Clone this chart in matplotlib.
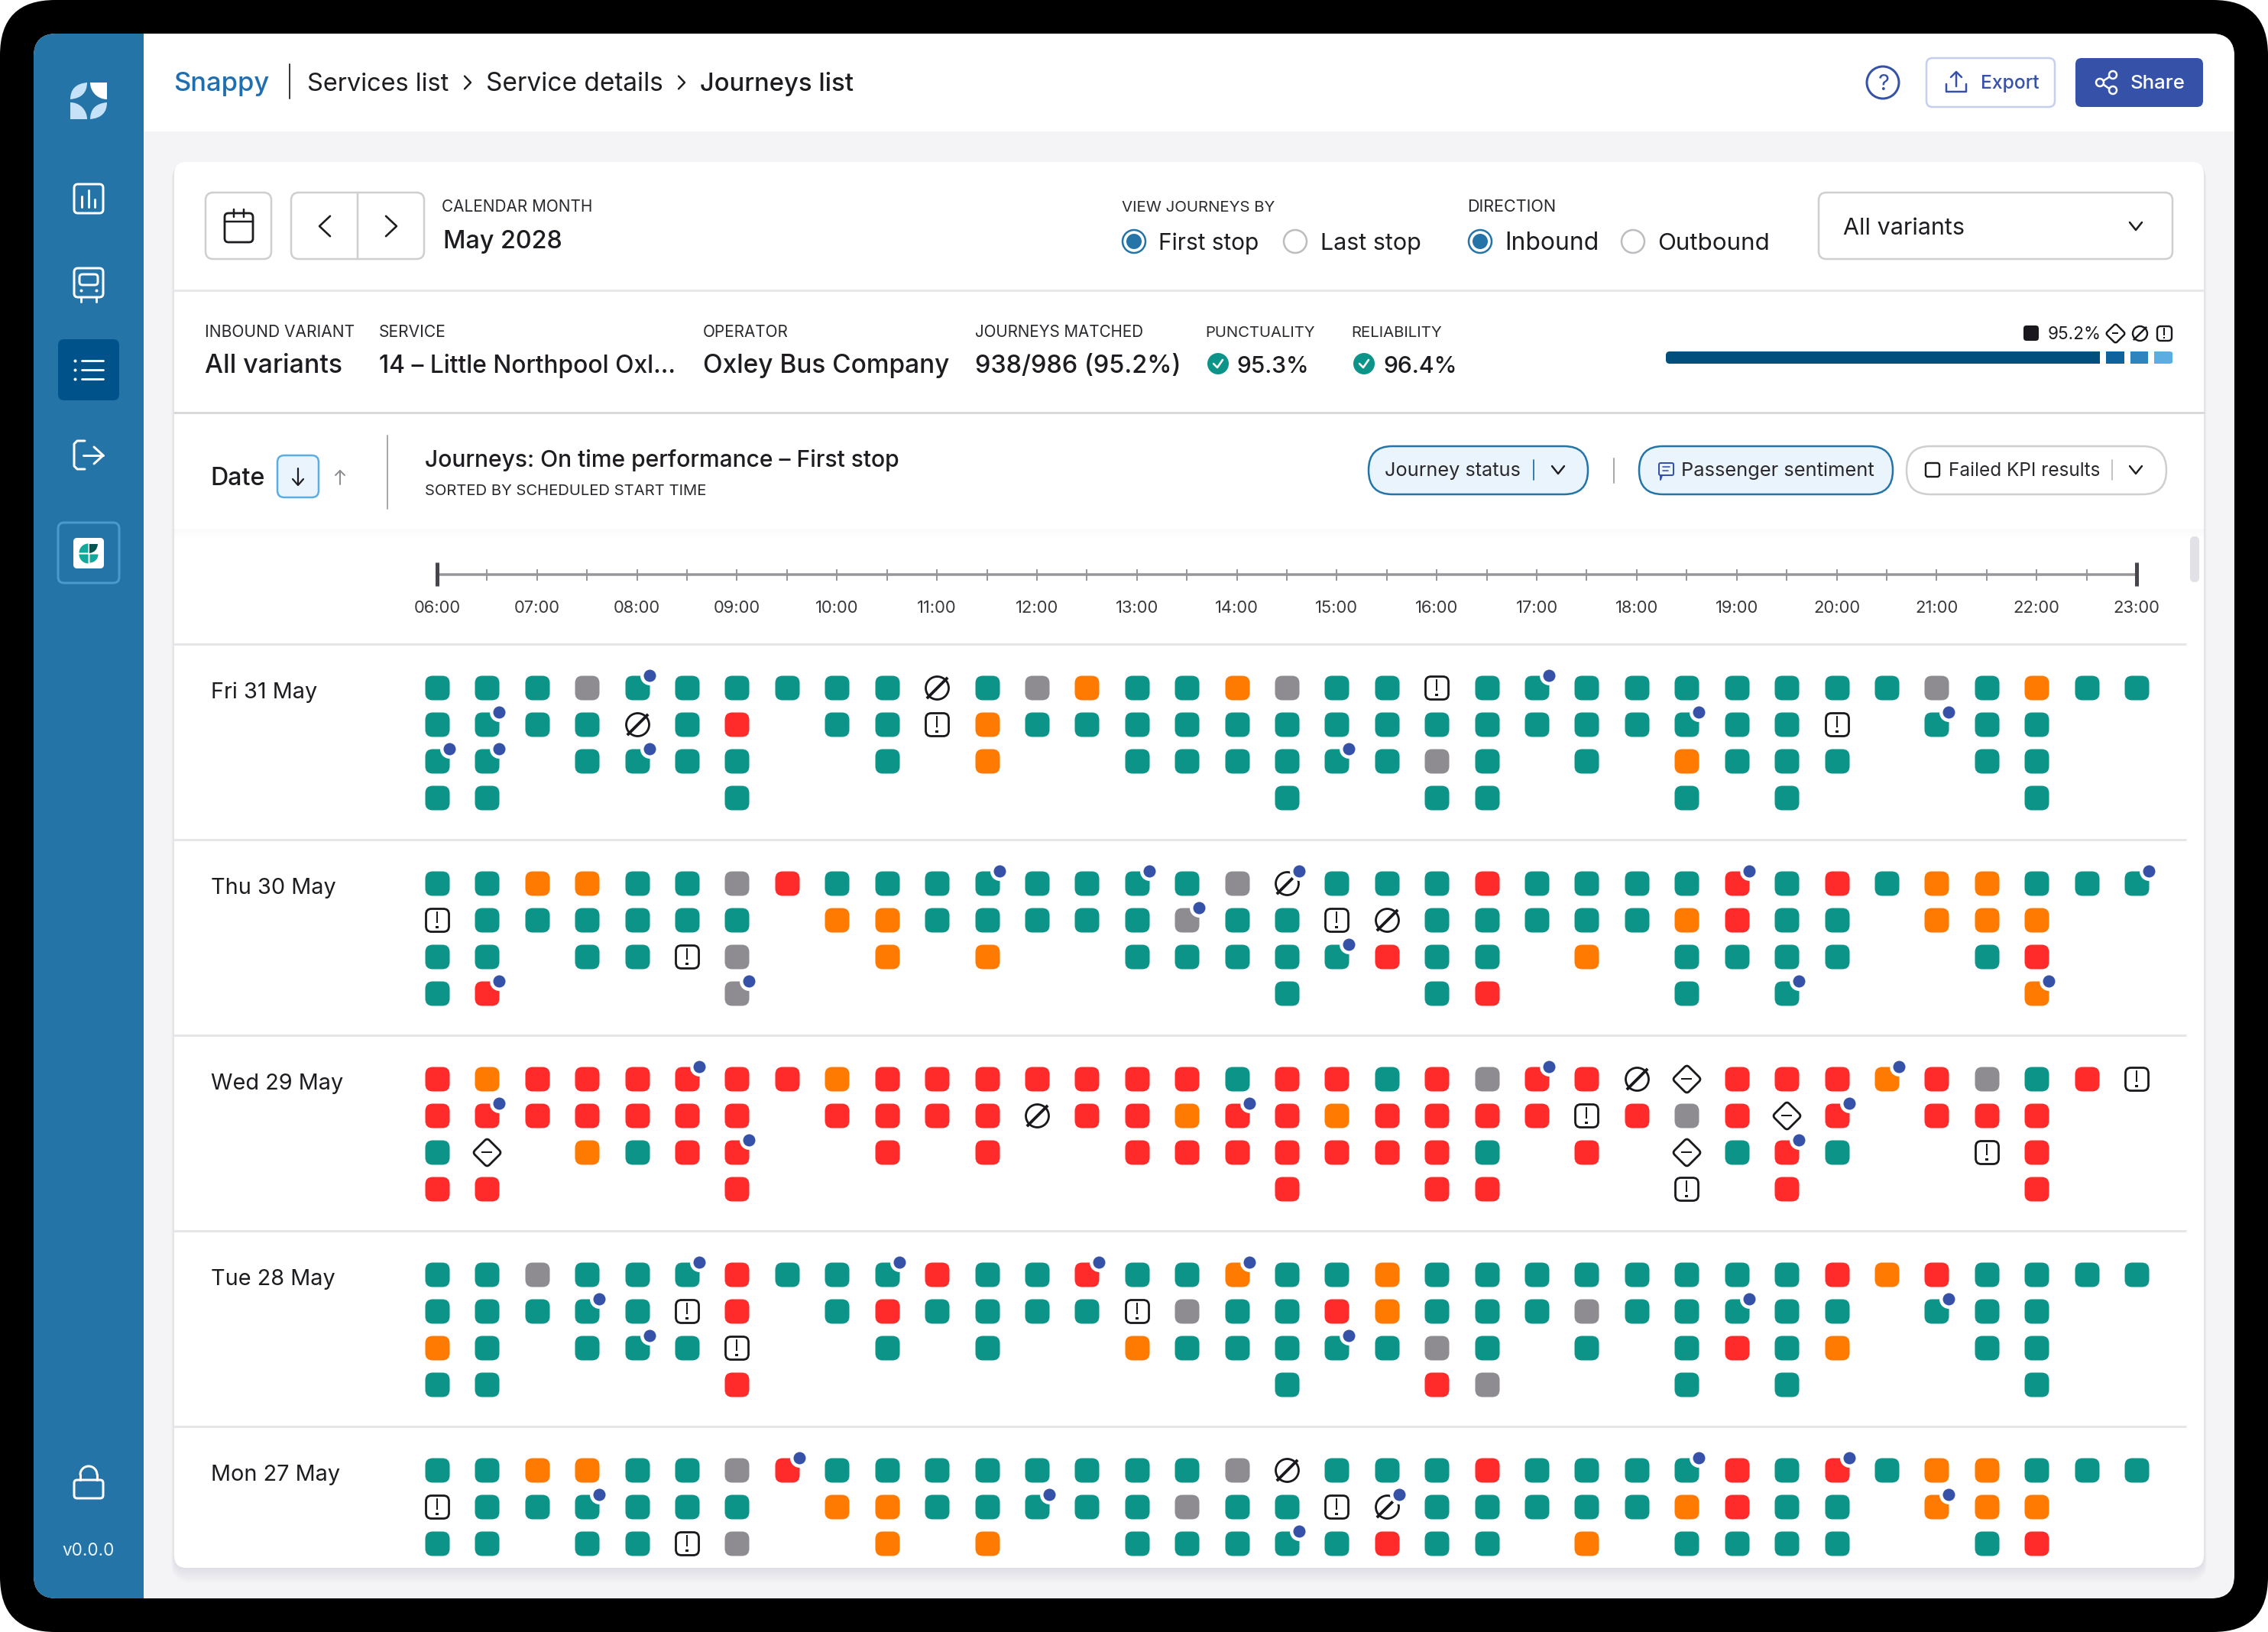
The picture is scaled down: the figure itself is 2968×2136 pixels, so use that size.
import numpy as np
import matplotlib
matplotlib.use("Agg")
import matplotlib.pyplot as plt
from matplotlib.patches import FancyBboxPatch, Circle, Rectangle, Wedge, PathPatch
from matplotlib.path import Path
from matplotlib.textpath import TextPath
from matplotlib.font_manager import FontProperties
from matplotlib.transforms import blended_transform_factory

# ---------- data ----------
DAYS = ["Fri 31 May", "Thu 30 May", "Wed 29 May", "Tue 28 May", "Mon 27 May"]
HOUR_LABELS = ["06:00", "07:00", "08:00", "09:00", "10:00", "11:00", "12:00", "13:00", "14:00",
               "15:00", "16:00", "17:00", "18:00", "19:00", "20:00", "21:00", "22:00", "23:00"]
# T on time, G no data, O early/late, R missed, X cancelled, E exception, D diverted
FRI = ["TTTGTTTTTTXTGOTTOGTTETTTTTTTTTGTOTT",
       "TTTTXTR.TTEOTTTTTTTTTTTTTTTTE.TTT..",
       "TT.TTTT..T.O..TTTTTTGT.T.OTTT..TT..",
       "TT....T..........T..TT...T.T....T.."]
THU = ["TTOOTTGRTTTTTTTTGXTTTRTTTTRTRTOOTTT",
       "ETTTTTT.OOTTTTTGTTEXTTTTTORTT.OOO..",
       "TT.TTEG..O.O..TTTTTRTT.O.TTTT..TR..",
       "TR....G..........T..TR...T.T....O.."]
WED = ["RORRRRRRORRRRRRRTRRTRGRRXDRRRORGTRE",
       "RRRRRRR.RRRRXRRORRORRRRERGRDR.RRR..",
       "TD.OTRR..R.R..RRRRRRRT.R.DTRT..ER..",
       "RR....R..........R..RR...E.R....R.."]
TUE = ["TTGTTTRTTTRTTRTTOTTOTTTTTTTTTRORTTTT",
       "TTTTTER.TRTTTTEGTTROTTTGTTTTT.TTT..",
       "OT.TTTE..T.T..OTTTTTGT.T.TRTO..TT..",
       "TT....R..........T..RG...T.T....T.."]
TUE[0] = "TTGTTTRTTTRTTRTTOT" + "TOTTTTTTTTRORTTTT"
MON = ["TTOOTTGRTTTTTTTTGXTTTRTTTTRTRTOOTTT",
       "ETTTTTT.OOTTTTTGTTEXTTTTTORTT.OOO..",
       "TT.TTEG..O.O..TTTTTRTT.O.TTTT..TR.."]
GRIDS = [FRI, THU, WED, TUE, MON]
# passenger sentiment flags as (half-hour column, row)
FRI_FLAGS = [(4, 0), (22, 0), (1, 1), (25, 1), (30, 1), (0, 2), (1, 2), (4, 2), (18, 2)]
THU_FLAGS = [(11, 0), (14, 0), (17, 0), (26, 0), (34, 0), (15, 1), (18, 2), (1, 3), (6, 3), (27, 3), (32, 3)]
WED_FLAGS = [(5, 0), (22, 0), (29, 0), (1, 1), (16, 1), (28, 1), (6, 2), (27, 2)]
TUE_FLAGS = [(5, 0), (9, 0), (13, 0), (16, 0), (3, 1), (26, 1), (30, 1), (4, 2), (18, 2)]
MON_FLAGS = [(7, 0), (25, 0), (28, 0), (3, 1), (12, 1), (19, 1), (30, 1), (17, 2)]
FLAGS = [FRI_FLAGS, THU_FLAGS, WED_FLAGS, TUE_FLAGS, MON_FLAGS]
STATUS_SHARE = [85.5, 3.6, 3.6, 3.6]
STATUS_COLORS = ["#004F7C", "#0F639C", "#2E84BC", "#5CAEE2"]

# ---------- style ----------
W, H = 2968, 2136
FONT = "Inter"
INK = "#1E1C20"
TEAL, RED, ORANGE, GREY = "#0C9488", "#FF2A2A", "#FF7A00", "#8E8C90"
BLUE = "#3652A8"
SIDE = "#2474A8"
PT = 0.72
plt.rcParams["font.family"] = [FONT, "DejaVu Sans"]

fig = plt.figure(figsize=(W / 100, H / 100), dpi=100, facecolor="white")
bg = fig.add_axes([0, 0, 1, 1])
bg.set_xlim(0, W)
bg.set_ylim(H, 0)
bg.axis("off")


def fit(s, w, weight="normal"):
    fp = FontProperties(family=FONT, weight=weight)
    return 100 * w * PT / TextPath((0, 0), s, size=100, prop=fp).get_extents().width


def T(x0, x1, y, s, color=INK, weight="normal", size=None, ha="left", ax=bg):
    fs = size if size else fit(s, (x1 - x0) * 0.99, weight)
    return ax.text(x0 - 0.5 if ha == "left" else x0, y, s, color=color, fontsize=fs, fontweight=weight,
                   ha=ha, va="baseline", zorder=6)


def rrect(x0, y0, x1, y1, r, fc="none", ec="none", lw=0, z=2, alpha=None):
    p = FancyBboxPatch((x0, y0), x1 - x0, y1 - y0, boxstyle=f"round,pad=0,rounding_size={r}",
                       fc=fc, ec=ec, lw=lw * PT, zorder=z, alpha=alpha)
    bg.add_patch(p)
    return p


def ln(xs, ys, c="white", lw=3, z=5):
    bg.plot(xs, ys, color=c, lw=lw * PT, solid_capstyle="round", solid_joinstyle="round", zorder=z)


def chevron(x, y, d, c=INK, lw=2.5, hw=9, hh=6):
    if d == "down":
        ln([x - hw, x, x + hw], [y - hh, y + hh, y - hh], c, lw)
    elif d == "left":
        ln([x + hh, x - hh, x + hh], [y - hw * 1.2, y, y + hw * 1.2], c, lw)
    else:
        ln([x - hh, x + hh, x - hh], [y - hw * 1.2, y, y + hw * 1.2], c, lw)


def rounded_square(half=0.5, r=0.3):
    k = half
    v = [(-k + r, -k), (k - r, -k), (k, -k), (k, -k + r), (k, k - r), (k, k), (k - r, k),
         (-k + r, k), (-k, k), (-k, k - r), (-k, -k + r), (-k, -k), (-k + r, -k), (-k + r, -k)]
    c = [Path.MOVETO, Path.LINETO, Path.CURVE3, Path.CURVE3, Path.LINETO, Path.CURVE3, Path.CURVE3,
         Path.LINETO, Path.CURVE3, Path.CURVE3, Path.LINETO, Path.CURVE3, Path.CURVE3, Path.CLOSEPOLY]
    return Path(v, c)


def rounded_diamond():
    a, b = 0.5, 0.42
    v = [(-b, 0.08), (-0.08, b), (0, a), (0.08, b), (b, 0.08), (a, 0), (b, -0.08), (0.08, -b), (0, -a),
         (-0.08, -b), (-b, -0.08), (-a, 0), (-b, 0.08), (-b, 0.08)]
    c = [Path.MOVETO, Path.LINETO, Path.CURVE3, Path.CURVE3, Path.LINETO, Path.CURVE3, Path.CURVE3,
         Path.LINETO, Path.CURVE3, Path.CURVE3, Path.LINETO, Path.CURVE3, Path.CURVE3, Path.CLOSEPOLY]
    return Path(v, c)


SQUARE = rounded_square()
SQUARE_OPEN = rounded_square(r=0.24)
DIAMOND = rounded_diamond()
CIRCLE = Path.unit_circle()
BANG = Path.make_compound_path(
    Path([(-0.055, 0.5), (0.055, 0.5), (0.055, -0.2), (-0.055, -0.2), (-0.055, 0.5)], closed=True),
    Path([(-0.07, -0.36), (0.07, -0.36), (0.07, -0.5), (-0.07, -0.5), (-0.07, -0.36)], closed=True))
MINUS = Path([(-0.5, 0.1), (0.5, 0.1), (0.5, -0.1), (-0.5, -0.1), (-0.5, 0.1)], closed=True)
d = 0.5 * 0.707
t = 0.035
SLASH = Path([(-d - t, -d + t), (-d + t, -d - t), (d + t, d - t), (d - t, d + t), (-d - t, -d + t)], closed=True)


def icon_marks(ax, kind, xs, ys, px=32, lw=2.8):
    k = px / 32
    if kind == "E":
        ax.scatter(xs, ys, marker=SQUARE_OPEN, s=((px - 2) * PT) ** 2, fc="white", ec="#1A181C", lw=lw * PT, zorder=3)
        ax.scatter(xs, ys, marker=BANG, s=(22 * k * PT) ** 2, fc="#1A181C", lw=0, zorder=4)
    elif kind == "X":
        ax.scatter(xs, ys, marker=CIRCLE, s=((px - 2) * PT) ** 2, fc="white", ec="#1A181C", lw=lw * PT, zorder=3)
        ax.scatter(xs, ys, marker=SLASH, s=((px - 2) * PT) ** 2, fc="#1A181C", lw=0, zorder=4)
    else:
        ax.scatter(xs, ys, marker=DIAMOND, s=((px + 6) * PT) ** 2, fc="white", ec="#1A181C", lw=lw * PT, zorder=3)
        ax.scatter(xs, ys, marker=MINUS, s=(14 * k * PT) ** 2, fc="#1A181C", lw=0, zorder=4)


# ---------- device and screen ----------
rrect(0, 0, W, H, 72, fc="#000000", z=0)
screen = rrect(44, 44, 2924, 2092, 30, fc="#F4F3F6", z=0.5)
side = Rectangle((44, 44), 144, 2048, fc=SIDE, zorder=1)
head = Rectangle((188, 44), 2736, 128, fc="white", zorder=1)
for p in (side, head):
    bg.add_patch(p)
    p.set_clip_path(screen)

# card with soft shadow falling below it
for i in range(10, 0, -1):
    rrect(228 - i * 0.4, 212, 2884 + i * 0.4, 2052 + i * 2, 16 + i, fc="#5A5070", z=1.1, alpha=0.006)
rrect(228, 212, 2884, 2052, 16, fc="white", z=1.2)
for i in range(12):
    bg.add_patch(Rectangle((228, 692 + i), 2656, 1, fc="#6A6080", alpha=0.03 * (1 - i / 12), lw=0, zorder=1.3))
ln([228, 2884], [379.5, 379.5], "#E8E7EA", 3, 1.4)
ln([228, 2884], [539.5, 539.5], "#D9D8DB", 3, 1.4)
for yy in (843, 1099, 1355, 1611, 1867):
    ln([228, 2860], [yy, yy], "#E6E5E8", 3, 1.4)
rrect(2866, 702, 2878, 762, 6, fc="#E2E1E5", z=1.5)

# ---------- sidebar icons ----------
LIGHT = "#C6E2F8"
bg.add_patch(Wedge((140, 108), 22, 90, 180, fc="white", lw=0, zorder=3))
bg.add_patch(Wedge((92, 156), 22, 270, 360, fc=LIGHT, lw=0, zorder=3))
leaf1 = Path([(114, 108), (92, 110), (92, 130), (114, 128), (114, 108), (114, 108)],
             [Path.MOVETO, Path.CURVE3, Path.CURVE3, Path.CURVE3, Path.CURVE3, Path.CLOSEPOLY])
leaf2 = Path([(118, 156), (140, 154), (140, 134), (118, 136), (118, 156), (118, 156)],
             [Path.MOVETO, Path.CURVE3, Path.CURVE3, Path.CURVE3, Path.CURVE3, Path.CLOSEPOLY])
bg.add_patch(PathPatch(leaf1, fc=LIGHT, lw=0, zorder=3))
bg.add_patch(PathPatch(leaf2, fc=LIGHT, lw=0, zorder=3))
rrect(97, 241, 135, 279, 5, ec="white", lw=3, z=3)
ln([107, 107], [257, 271]); ln([116, 116], [249, 271]); ln([124, 124], [261, 271])
rrect(97, 351, 135, 389, 5, ec="white", lw=3, z=3)
rrect(104, 359, 128, 373, 4, ec="white", lw=3, z=3)
bg.scatter([106, 126], [380, 380], s=(4 * PT) ** 2, c="white", zorder=4, lw=0)
ln([106, 106], [389, 395]); ln([126, 126], [389, 395])
rrect(76, 444, 156, 524, 8, fc="#00528A", z=2)
for yy in (472, 484, 496):
    ln([107, 135], [yy, yy], lw=2.8)
    bg.scatter([98], [yy], s=(4 * PT) ** 2, c="white", zorder=4, lw=0)
ln([111, 101, 97, 97, 101, 111], [577, 577, 581, 610, 614, 614])
ln([109, 135], [596, 596]); ln([123, 135, 123], [585, 596, 607])
rrect(76, 684, 156, 763, 8, ec="#4B9ACF", lw=3, z=2)
rrect(96, 704, 136, 744, 5, fc="white", z=3)
bg.add_patch(Wedge((115.5, 723.5), 12, 180, 270, fc="#14A89C", lw=0, zorder=4))
bg.add_patch(Wedge((115.5, 725.5), 12, 90, 180, fc="#14A89C", lw=0, zorder=4))
bg.add_patch(Wedge((117.5, 725.5), 11, 0, 90, fc="#14A89C", lw=0, zorder=4))
bg.add_patch(PathPatch(Path([(117, 712), (128, 712), (128, 712), (127, 723), (117, 724), (117, 712), (117, 712)],
                            [Path.MOVETO, Path.LINETO, Path.LINETO, Path.CURVE3, Path.CURVE3, Path.LINETO, Path.CLOSEPOLY]),
                       fc="#04544F", lw=0, zorder=4))
rrect(97, 1937, 135, 1961, 4, ec="white", lw=3, z=3)
th = np.linspace(np.pi, 2 * np.pi, 30)
ln(116 + 11 * np.cos(th), 1930 + 11 * np.sin(th))
ln([105, 105], [1930, 1937]); ln([127, 127], [1930, 1937])
T(82, 149, 2036, "v0.0.0", color="#EAF4FC")

# ---------- header ----------
T(228, 352, 119, "Snappy", color="#1F6FB0", weight="medium")
ln([379, 379], [84, 129], "#3A383C", 2)
T(402, 587, 119, "Services list")
chevron(612, 108, "right", INK, 2.4, 7, 4)
T(637, 867, 119, "Service details")
chevron(892, 108, "right", INK, 2.4, 7, 4)
T(917, 1118, 119, "Journeys list", weight="medium")
bg.add_patch(Circle((2464, 108), 21, fc="none", ec=BLUE, lw=3 * PT, zorder=3))
T(2465, 2465, 118, "?", color=BLUE, size=21, ha="center")
rrect(2521, 76, 2689, 140, 8, fc="white", ec="#C5CFEF", lw=2.5, z=3)
T(2592, 2667, 116, "Export", color=BLUE, weight="medium")
ln([2547, 2547, 2573, 2573], [110, 120, 120, 110], BLUE, 2.5)
ln([2560, 2560], [95, 113], BLUE, 2.5); ln([2553, 2560, 2567], [101, 94, 101], BLUE, 2.5)
rrect(2716, 76, 2883, 140, 8, fc=BLUE, z=3)
T(2788, 2858, 116, "Share", color="white", weight="medium")
ln([2749, 2763], [108, 99], "white", 2.5); ln([2749, 2763], [108, 118], "white", 2.5)
for cx, cy in ((2748, 108), (2765, 98), (2765, 118)):
    bg.add_patch(Circle((cx, cy), 5, fc=BLUE, ec="white", lw=2.5 * PT, zorder=6))

# ---------- filter row ----------
BORDER = "#CFCED1"
rrect(269, 252, 355, 339, 10, fc="white", ec=BORDER, lw=2.5, z=3)
rrect(381, 252, 555, 339, 10, fc="white", ec=BORDER, lw=2.5, z=3)
ln([467.5, 467.5], [252, 339], BORDER, 2.5)
rrect(294, 279, 331, 317, 5, ec=INK, lw=2.8, z=4)
ln([294, 331], [290, 290], INK, 2.5)
ln([306, 306], [274, 284], INK, 2.5); ln([319, 319], [274, 284], INK, 2.5)
chevron(425, 296, "left", INK, 2.6, 11, 7)
chevron(512, 296, "right", INK, 2.6, 11, 7)
T(579, 775, 277, "CALENDAR MONTH", color="#2B292D")
T(580, 733, 325, "May 2028", weight="medium")
T(1468, 1670, 277, "VIEW JOURNEYS BY", color="#2B292D")
T(1921, 2035, 277, "DIRECTION", color="#2B292D")
for cx, on in ((1484, True), (1695, False), (1937, True), (2137, False)):
    bg.add_patch(Circle((cx, 316), 15, fc="white", ec=SIDE if on else "#BDBCC0", lw=2.5 * PT, zorder=4))
    if on:
        bg.add_patch(Circle((cx, 316), 10, fc=SIDE, lw=0, zorder=5))
T(1516, 1645, 327, "First stop")
T(1728, 1857, 327, "Last stop")
T(1970, 2089, 327, "Inbound")
T(2170, 2314, 327, "Outbound")
rrect(2380, 252, 2843, 339, 10, fc="white", ec=BORDER, lw=2.5, z=3)
T(2413, 2571, 307, "All variants")
chevron(2795, 296, "down", INK, 2.5, 8, 5)

# ---------- summary row ----------
for x0, x1, s in ((268, 463, "INBOUND VARIANT"), (496, 582, "SERVICE"), (920, 1031, "OPERATOR"),
                  (1276, 1497, "JOURNEYS MATCHED"), (1578, 1721, "PUNCTUALITY"), (1769, 1887, "RELIABILITY")):
    T(x0, x1, 441, s, color="#2B292D")
for x0, x1, s in ((268, 447, "All variants"), (496, 884, "14 – Little Northpool Oxl…"),
                  (920, 1243, "Oxley Bus Company"), (1276, 1544, "938/986 (95.2%)"),
                  (1619, 1710, "95.3%"), (1811, 1904, "96.4%")):
    T(x0, x1, 488, s, weight="medium")
for cx in (1594, 1785):
    bg.add_patch(Circle((cx, 476), 14, fc=TEAL, lw=0, zorder=4))
    ln([cx - 6, cx - 1, cx + 6], [476, 481, 471], "white", 2.6)

prog = fig.add_axes([2180 / W, 1 - 476 / H, 664 / W, 16 / H])
prog.set_xlim(0, 100)
prog.set_ylim(-0.5, 0.5)
prog.axis("off")
prog_clip = rrect(2180, 460, 2844, 476, 5, z=0.1)
left = 0.0
for val, col in zip(STATUS_SHARE, STATUS_COLORS):
    for bar in prog.barh(0, val, left=left, height=1, color=col, lw=0):
        bar.set_clip_path(prog_clip)
    left += val + 1.2

rrect(2648, 426, 2668, 446, 4, fc="#1A181C", z=4)
T(2680, 2747, 444, "95.2%")
icon_marks(bg, "D", [2768], [435.5], px=20, lw=2.4)
icon_marks(bg, "X", [2800], [435.5], px=21, lw=2.4)
icon_marks(bg, "E", [2832], [435.5], px=21, lw=2.4)

# ---------- toolbar row ----------
T(276, 344, 635, "Date", weight="medium")
rrect(363, 596, 417, 651, 9, fc="#EAF4FC", ec="#5AAEE3", lw=2.5, z=3)
ln([390, 390], [613, 634], INK, 2.2); ln([383, 390, 397], [627, 635, 627], INK, 2.2)
ln([445, 445], [616, 634], "#8E8C90", 2); ln([439, 445, 451], [622, 616, 622], "#8E8C90", 2)
ln([507, 507], [570, 666], "#A9A8AB", 2)
T(556, 1182, 611, "Journeys: On time performance – First stop", weight="medium")
T(556, 926, 648, "SORTED BY SCHEDULED START TIME", color="#2B292D")
rrect(1791, 584, 2078, 647, 31, fc="#EAF4FC", ec=SIDE, lw=2.5, z=3)
T(1813, 1990, 623, "Journey status", color="#2B292D")
ln([2007, 2007], [602, 628], SIDE, 1.8)
chevron(2039, 615, "down", INK, 2.4, 8, 5)
ln([2112, 2112], [600, 632], "#A9A8AB", 2)
rrect(2145, 584, 2477, 647, 31, fc="#EAF4FC", ec=SIDE, lw=2.5, z=3)
rrect(2171, 606, 2190, 622, 2, ec=BLUE, lw=2, z=4)
ln([2175, 2173, 2173], [622, 628, 622], BLUE, 2)
ln([2176, 2185], [611, 611], BLUE, 1.6); ln([2176, 2183], [616, 616], BLUE, 1.6)
T(2200, 2453, 623, "Passenger sentiment", color="#2B292D")
rrect(2495, 584, 2835, 647, 31, fc="white", ec=BORDER, lw=2.5, z=3)
rrect(2520, 606, 2538, 624, 3, ec=INK, lw=2.4, z=4)
T(2550, 2747, 623, "Failed KPI results", color="#2B292D")
ln([2764, 2764], [602, 628], "#BDBCC0", 1.8)
chevron(2795, 615, "down", INK, 2.4, 8, 5)

# ---------- time axis ----------
HOUR_W = (2796 - 572) / 17
ax_t = fig.add_axes([572 / W, 1 - 752 / H, (2796 - 572) / W, 0.0005])
ax_t.patch.set_visible(False)
for sp in ("top", "left", "right"):
    ax_t.spines[sp].set_visible(False)
ax_t.spines["bottom"].set_color("#98969B")
ax_t.spines["bottom"].set_linewidth(3.5 * PT)
ax_t.set_yticks([])
hours = np.arange(6, 24)
ax_t.set_xticks(hours, HOUR_LABELS, color="#3A383C", fontsize=fit("06:00", 59))
ax_t.set_xticks(hours[:-1] + 0.5, minor=True)
ax_t.tick_params(axis="x", which="both", direction="inout", length=15 * PT, width=1.8 * PT, color="#8E8C90")
ax_t.tick_params(axis="x", which="major", pad=26 * PT)
tr = blended_transform_factory(ax_t.transData, bg.transData)
for h in (6, 23):
    ax_t.plot([h, h], [736, 767], color="#48464A", lw=5 * PT, transform=tr, clip_on=False,
              solid_capstyle="butt", zorder=5)
ax_t.set_xlim(6, 23)

# ---------- journey grid ----------
DAY_ROWS = 256 / 48
ax = fig.add_axes([(572 - HOUR_W / 2) / W, 1 - 2052 / H, (2796 - 572 + HOUR_W) / W, (2052 - 700) / H])
ax.patch.set_visible(False)
ax.axis("off")
ax.set_xlim(5.5, 23.5)
ax.set_ylim((2052 - 900) / 48, (700 - 900) / 48)
COLORS = {"T": TEAL, "G": GREY, "O": ORANGE, "R": RED}
xs = {k: [] for k in "TGOREXD"}
ys = {k: [] for k in "TGOREXD"}
for di, grid in enumerate(GRIDS):
    for ri, row in enumerate(grid):
        for ci, code in enumerate(row):
            if code != ".":
                xs[code].append(6 + ci * 0.5)
                ys[code].append(di * DAY_ROWS + ri)
MS = (32 * PT) ** 2
for code, col in COLORS.items():
    ax.scatter(xs[code], ys[code], marker=SQUARE, s=MS, c=col, lw=0, zorder=2)
for code in "EXD":
    icon_marks(ax, code, xs[code], ys[code])
fx = [6 + c * 0.5 + 16 / HOUR_W for di, fl in enumerate(FLAGS) for c, r in fl]
fy = [di * DAY_ROWS + r - 16 / 48 for di, fl in enumerate(FLAGS) for c, r in fl]
ax.scatter(fx, fy, marker="o", s=(25 * PT) ** 2, c="white", lw=0, zorder=5)
ax.scatter(fx, fy, marker="o", s=(16 * PT) ** 2, c=BLUE, lw=0, zorder=6)

size_day = fit("Mon 27 May", 166)
for di, name in enumerate(DAYS):
    T(276.5, 277, 914 + 256 * di, name, size=size_day)

fig.savefig("out.png", dpi=100, facecolor="white")
